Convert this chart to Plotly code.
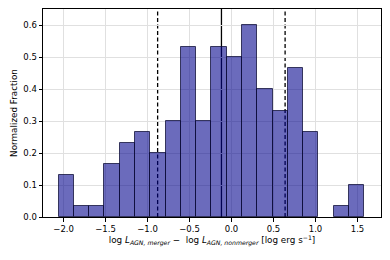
import numpy as np
import plotly.graph_objects as go

# Data
bin_start = -2.059
bin_width = 0.182
fractions = [0.133, 0.033, 0.033, 0.167, 0.233, 0.267, 0.200, 0.300, 0.533, 0.300,
             0.533, 0.500, 0.600, 0.400, 0.333, 0.467, 0.267, None, 0.033, 0.100]
dashed_lines = [-0.88, 0.638]
solid_line = -0.12
x_ticks = [-2.0, -1.5, -1.0, -0.5, 0.0, 0.5, 1.0, 1.5]
y_ticks = [0.0, 0.1, 0.2, 0.3, 0.4, 0.5, 0.6]

centers = [bin_start + bin_width * (i + 0.5) for i in range(len(fractions))]

fig = go.Figure()
fig.add_trace(go.Bar(
    x=centers, y=fractions, width=[bin_width] * len(fractions),
    marker=dict(color="rgba(0,0,139,0.58)", line=dict(color="rgba(10,10,50,0.75)", width=1)),
    showlegend=False, hoverinfo="skip",
))

for xv in dashed_lines:
    fig.add_shape(type="line", x0=xv, x1=xv, y0=0, y1=1, xref="x", yref="paper",
                  line=dict(color="black", width=1.3, dash="4px,2.5px"), layer="between")
fig.add_shape(type="line", x0=solid_line, x1=solid_line, y0=0, y1=1, xref="x", yref="paper",
              line=dict(color="black", width=1.3), layer="between")

tick_font = dict(family="DejaVu Sans", size=8.5, color="black")
title_font = dict(family="DejaVu Sans", size=8.8, color="black")
fig.update_layout(
    width=390, height=260,
    margin=dict(l=43, r=9, t=9, b=43),
    plot_bgcolor="white", paper_bgcolor="white",
    bargap=0,
    font=dict(family="DejaVu Sans", size=8.5, color="black"),
    xaxis=dict(
        range=[-2.245, 1.78], automargin=False,
        tickvals=x_ticks,
        ticktext=[f"{v:.1f}".replace("-", "\u2212") for v in x_ticks],
        tickfont=tick_font,
        ticks="outside", ticklen=3.5, tickwidth=0.8, tickcolor="black",
        showline=True, linecolor="black", linewidth=1, mirror=True,
        showgrid=True, gridcolor="#e0e0e0", gridwidth=0.8,
        zeroline=False,
        title=dict(text="log <i>L</i><sub><i>AGN, merger</i></sub> \u2212  log <i>L</i><sub><i>AGN, nonmerger</i></sub> [log erg s<sup>\u22121</sup>]",
                   font=title_font, standoff=3),
    ),
    yaxis=dict(
        range=[0, 0.651], automargin=False,
        tickvals=y_ticks,
        ticktext=[f"{v:.1f}" for v in y_ticks],
        tickfont=tick_font,
        ticks="outside", ticklen=3.5, tickwidth=0.8, tickcolor="black",
        showline=True, linecolor="black", linewidth=1, mirror=True,
        showgrid=True, gridcolor="#e0e0e0", gridwidth=0.8,
        zeroline=False,
        title=dict(text="Normalized Fraction", font=title_font, standoff=4),
    ),
)

fig.write_html("out.html", config={"displayModeBar": False},
               post_script="document.body.style.margin='0';")
